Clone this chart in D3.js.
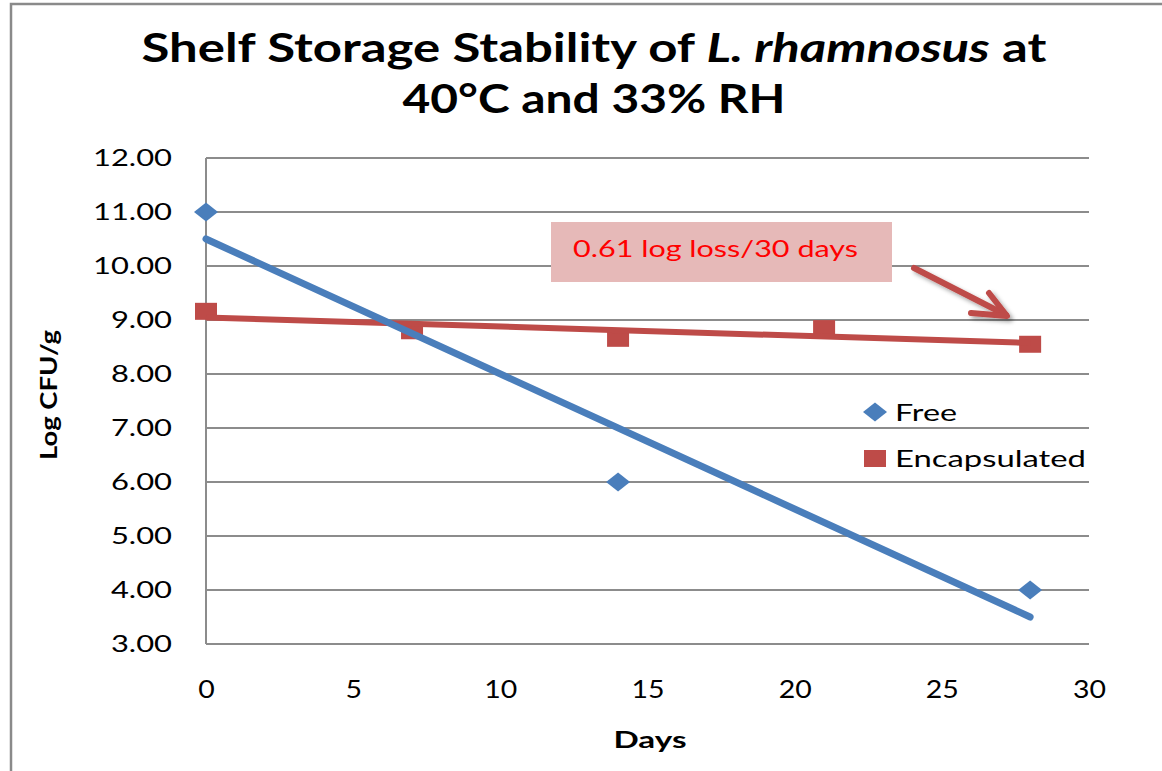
<!DOCTYPE html>
<html>
<head>
<meta charset="utf-8">
<script src="https://cdn.jsdelivr.net/npm/d3@7"></script>
<style>
  html, body { margin: 0; padding: 0; background: #fff; }
  svg { display: block; }
  text { font-family: Lato, "Open Sans", sans-serif; }
</style>
</head>
<body>
<svg id="chart" width="1162" height="771"></svg>
<script>
// ---- data ----
const freeDays = [0, 14, 28];
const freeValues = [11.0, 6.0, 4.0];
const encDays = [0, 7, 14, 21, 28];
const encValues = [9.17, 8.81, 8.67, 8.85, 8.56];
const xTicks = [0, 5, 10, 15, 20, 25, 30];
const yTicks = [3, 4, 5, 6, 7, 8, 9, 10, 11, 12];
const seriesNames = ["Free", "Encapsulated"];
const titleLine1 = ["Shelf Storage Stability of ", "L. rhamnosus", " at"];
const titleLine2 = "40°C and 33% RH";
const xTitle = "Days";
const yTitle = "Log CFU/g";
const annotation = "0.61 log loss/30 days";

// ---- setup ----
const svg = d3.select("#chart");
const blue = "#4a7ebb", red = "#be4b48", grid = "#8c8c8c";
const x = d3.scaleLinear().domain([0, 30]).range([206, 1089]);
const y = d3.scaleLinear().domain([3, 12]).range([644, 158]);

const defs = svg.append("defs");
const f = defs.append("filter").attr("id", "shadow").attr("x", "-20%").attr("y", "-20%").attr("width", "150%").attr("height", "150%");
f.append("feDropShadow").attr("dx", 3).attr("dy", 3).attr("stdDeviation", 2)
  .attr("flood-color", "#000").attr("flood-opacity", 0.35);

function stretch(sel, k) {
  sel.each(function () {
    const len = this.getComputedTextLength();
    d3.select(this).attr("textLength", len * k).attr("lengthAdjust", "spacingAndGlyphs");
  });
}
function fit(sel, w) {
  sel.attr("textLength", w).attr("lengthAdjust", "spacingAndGlyphs");
}

// outer border
svg.append("path").attr("d", "M11,771 V4 H1162").attr("fill", "none")
  .attr("stroke", "#8a8a8a").attr("stroke-width", 2.5);

// gridlines
svg.append("g").selectAll("line").data(yTicks).join("line")
  .attr("x1", x(0)).attr("x2", x(30))
  .attr("y1", d => y(d)).attr("y2", d => y(d))
  .attr("stroke", grid).attr("stroke-width", 2);
// y axis line
svg.append("line").attr("x1", x(0)).attr("x2", x(0)).attr("y1", y(12)).attr("y2", y(3))
  .attr("stroke", grid).attr("stroke-width", 2);

// axes labels
const yAxis = svg.append("g").attr("transform", `translate(${x(0)},0)`)
  .call(d3.axisLeft(y).tickValues(yTicks).tickFormat(d3.format(".2f")).tickSize(0).tickPadding(34));
yAxis.select(".domain").remove();
yAxis.selectAll("text").attr("font-size", 22.5).attr("fill", "#000").attr("font-family", "Lato");
(function () {
  const ref = yAxis.selectAll("text").filter(d => d === 12).node().getComputedTextLength();
  stretch(yAxis.selectAll("text"), 79 / ref);
})();

const xAxis = svg.append("g").attr("transform", `translate(0,${y(3)})`)
  .call(d3.axisBottom(x).tickValues(xTicks).tickSize(0).tickPadding(36));
xAxis.select(".domain").remove();
xAxis.selectAll("text").attr("font-size", 25).attr("fill", "#000").attr("font-family", "Lato");
(function () {
  const ref = xAxis.selectAll("text").filter(d => d === 30).node().getComputedTextLength();
  stretch(xAxis.selectAll("text"), 33 / ref);
})();

// axis titles
svg.append("text").attr("x", 650).attr("y", 748).attr("text-anchor", "middle")
  .attr("font-size", 23).attr("font-weight", 700).text(xTitle).call(fit, 73);
svg.append("text").attr("transform", "translate(57,395) rotate(-90)").attr("text-anchor", "middle")
  .attr("font-size", 23).attr("font-weight", 700).text(yTitle).call(fit, 130);

// title
const t1 = svg.append("text").attr("x", 594).attr("y", 62).attr("text-anchor", "middle")
  .attr("font-size", 40).attr("font-weight", 700);
titleLine1.forEach((s, i) => t1.append("tspan").attr("font-style", i === 1 ? "italic" : "normal").text(s));
fit(t1, 905);
svg.append("text").attr("x", 594).attr("y", 113).attr("text-anchor", "middle")
  .attr("font-size", 40).attr("font-weight", 700).text(titleLine2).call(fit, 383);

// markers
const diamond = (cx, cy) => `M${cx - 12},${cy} L${cx},${cy - 9.5} L${cx + 12},${cy} L${cx},${cy + 9.5} Z`;
svg.append("g").selectAll("path").data(freeDays.map((d, i) => [d, freeValues[i]])).join("path")
  .attr("d", d => diamond(x(d[0]), y(d[1]))).attr("fill", blue);
svg.append("g").selectAll("rect").data(encDays.map((d, i) => [d, encValues[i]])).join("rect")
  .attr("x", d => x(d[0]) - 11).attr("y", d => y(d[1]) - 8)
  .attr("width", 22).attr("height", 17).attr("fill", red);

// linear trendlines (least squares)
function fitLine(xs, ys) {
  const mx = d3.mean(xs), my = d3.mean(ys);
  let sxy = 0, sxx = 0;
  xs.forEach((v, i) => { sxy += (v - mx) * (ys[i] - my); sxx += (v - mx) ** 2; });
  const b = sxy / sxx;
  return v => my + b * (v - mx);
}
const encFit = fitLine(encDays, encValues);
const freeFit = fitLine(freeDays, freeValues);
const ext = d3.extent(encDays);
svg.append("line").attr("x1", x(ext[0])).attr("y1", y(encFit(ext[0])))
  .attr("x2", x(ext[1])).attr("y2", y(encFit(ext[1])))
  .attr("stroke", red).attr("stroke-width", 6);
const fext = d3.extent(freeDays);
svg.append("line").attr("x1", x(fext[0])).attr("y1", y(freeFit(fext[0])))
  .attr("x2", x(fext[1])).attr("y2", y(freeFit(fext[1])))
  .attr("stroke", blue).attr("stroke-width", 7).attr("stroke-linecap", "round");

// legend
const lg = svg.append("g");
lg.append("path").attr("d", diamond(875, 412)).attr("fill", blue);
lg.append("rect").attr("x", 864).attr("y", 450).attr("width", 22).attr("height", 17).attr("fill", red);
lg.append("text").attr("x", 895).attr("y", 421).attr("font-size", 24).text(seriesNames[0]).call(fit, 62);
lg.append("text").attr("x", 895).attr("y", 467).attr("font-size", 24).text(seriesNames[1]).call(fit, 191);

// annotation
svg.append("rect").attr("x", 551).attr("y", 222).attr("width", 341).attr("height", 60).attr("fill", "#e6b9b8");
svg.append("text").attr("x", 573).attr("y", 257).attr("font-size", 24).attr("fill", "#ff0000")
  .text(annotation).call(fit, 285);
const arrow = svg.append("g").attr("filter", "url(#shadow)").attr("stroke", red)
  .attr("stroke-width", 6).attr("fill", "none").attr("stroke-linecap", "round").attr("stroke-linejoin", "round");
arrow.append("line").attr("x1", 914).attr("y1", 268).attr("x2", 1006).attr("y2", 315);
arrow.append("polyline").attr("points", "989,293 1007,316 971,313");
</script>
</body>
</html>
